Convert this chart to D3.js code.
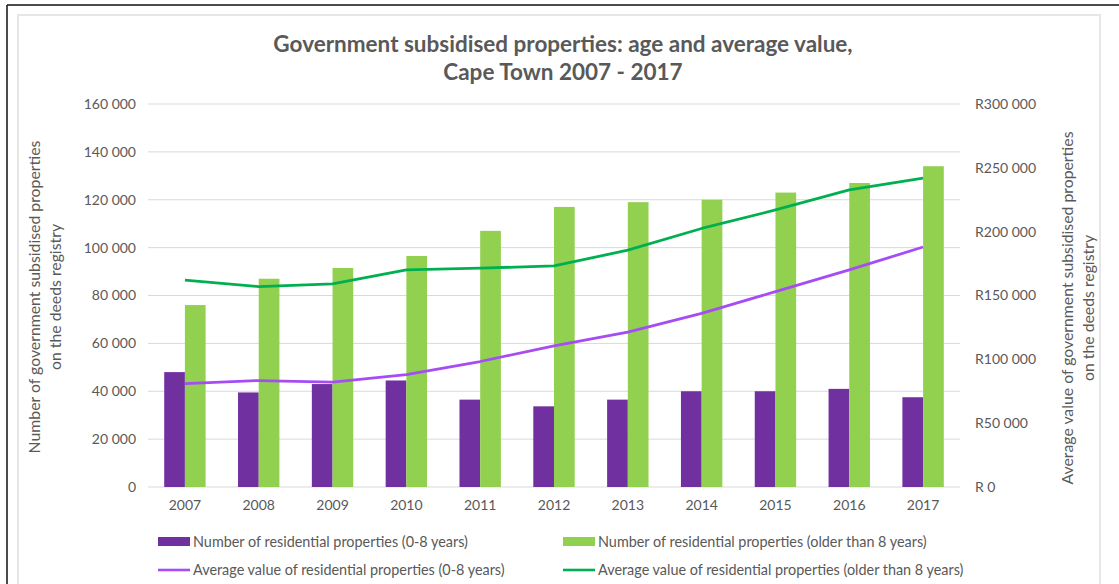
<!DOCTYPE html>
<html>
<head>
<meta charset="utf-8">
<script src="https://cdn.jsdelivr.net/npm/d3@7"></script>
<style>
  html, body { margin: 0; padding: 0; background: #fff; }
  svg { display: block; font-family: Lato, "Open Sans", sans-serif; }
</style>
</head>
<body>
<svg id="chart" width="1119" height="584"></svg>
<script>
// Years on the category axis
const years = ["2007","2008","2009","2010","2011","2012","2013","2014","2015","2016","2017"];

// Number of residential properties on the deeds registry (left axis)
const countNew = [48000, 39500, 43000, 44500, 36500, 33700, 36500, 40000, 40000, 41000, 37500];
const countOld = [76000, 87000, 91500, 96500, 107000, 117000, 119000, 120000, 123000, 127000, 134000];

// Average value of residential properties in Rand (right axis)
const valueNew = [81000, 83400, 82200, 88000, 98300, 110600, 121300, 136000, 153000, 170000, 188000];
const valueOld = [162000, 157000, 159100, 170000, 171400, 173200, 185500, 202500, 217000, 232700, 242000];

// Axis ticks
const leftTicks = [0, 20000, 40000, 60000, 80000, 100000, 120000, 140000, 160000];
const rightTicks = [0, 50000, 100000, 150000, 200000, 250000, 300000];

// Legend entries
const seriesLabels = [
  "Number of residential properties (0-8 years)",
  "Number of residential properties (older than 8 years)",
  "Average value of residential properties (0-8 years)",
  "Average value of residential properties (older than 8 years)"
];

const colors = {
  barNew: "#7030A0",
  barOld: "#92D050",
  lineNew: "#A64CF5",
  lineOld: "#00B050",
  text: "#595959",
  grid: "#D9D9D9"
};

const svg = d3.select("#chart");

// Outer frame
svg.append("line").attr("x1", 7).attr("x2", 1119).attr("y1", 5).attr("y2", 5)
  .attr("stroke", "#111").attr("stroke-width", 1.5);
svg.append("line").attr("x1", 7).attr("x2", 7).attr("y1", 5).attr("y2", 584)
  .attr("stroke", "#111").attr("stroke-width", 1.5);
svg.append("rect").attr("x", 18).attr("y", 15).attr("width", 1082).attr("height", 580)
  .attr("fill", "none").attr("stroke", "#E6E6E6").attr("stroke-width", 2);

const plot = { left: 148, right: 960, top: 104, bottom: 487 };

const x = d3.scaleBand().domain(years).range([plot.left, plot.right]).paddingInner(0).paddingOuter(0);
const yL = d3.scaleLinear().domain([0, 160000]).range([plot.bottom, plot.top]);
const yR = d3.scaleLinear().domain([0, 300000]).range([plot.bottom, plot.top]);

const grouped = v => d3.format(",")(v).replace(/,/g, " ");
const fmtLeft = v => v === 0 ? "0" : grouped(v);
const fmtRight = v => "R" + (v === 0 ? " 0" : grouped(v));

// Title
const title = svg.append("text")
  .attr("text-anchor", "middle").attr("fill", colors.text)
  .attr("font-size", 22.5).attr("font-weight", "bold");
title.append("tspan").attr("x", 563).attr("y", 52).text("Government subsidised properties: age and average value,");
title.append("tspan").attr("x", 563).attr("y", 80).text("Cape Town 2007 - 2017");

// Gridlines
svg.append("g").selectAll("line").data(leftTicks).join("line")
  .attr("x1", plot.left).attr("x2", plot.right)
  .attr("y1", d => yL(d)).attr("y2", d => yL(d))
  .attr("stroke", colors.grid).attr("stroke-width", 1);

// Left axis
const leftAxis = svg.append("g").attr("transform", `translate(${plot.left},0)`)
  .call(d3.axisLeft(yL).tickValues(leftTicks).tickFormat(fmtLeft).tickSize(0).tickPadding(12));
leftAxis.select(".domain").remove();
leftAxis.selectAll("text").attr("fill", colors.text).attr("font-size", 14).attr("font-family", "Lato, sans-serif");

// Right axis
const rightAxis = svg.append("g").attr("transform", `translate(${plot.right},0)`)
  .call(d3.axisRight(yR).tickValues(rightTicks).tickFormat(fmtRight).tickSize(0).tickPadding(15));
rightAxis.select(".domain").remove();
rightAxis.selectAll("text").attr("fill", colors.text).attr("font-size", 14).attr("font-family", "Lato, sans-serif");

// Bottom axis
const bottomAxis = svg.append("g").attr("transform", `translate(0,${plot.bottom})`)
  .call(d3.axisBottom(x).tickSize(0).tickPadding(13));
bottomAxis.select(".domain").remove();
bottomAxis.selectAll("text").attr("fill", colors.text).attr("font-size", 14).attr("font-family", "Lato, sans-serif");

// Axis titles
svg.append("text")
  .attr("transform", "translate(40,297) rotate(-90)")
  .attr("text-anchor", "middle").attr("fill", colors.text).attr("font-size", 15.8)
  .selectAll("tspan").data(["Number of government subsidised properties", "on the deeds registry"]).join("tspan")
  .attr("x", 0).attr("dy", (d, i) => i === 0 ? 0 : 21).text(d => d);

svg.append("text")
  .attr("transform", "translate(1073,308) rotate(-90)")
  .attr("text-anchor", "middle").attr("fill", colors.text).attr("font-size", 15.8)
  .selectAll("tspan").data(["Average value of government subsidised properties", "on the deeds registry"]).join("tspan")
  .attr("x", 0).attr("dy", (d, i) => i === 0 ? 0 : 21).text(d => d);

// Bars
const barW = 20.7;
const barsNew = years.map((yr, i) => ({ yr, v: countNew[i] }));
const barsOld = years.map((yr, i) => ({ yr, v: countOld[i] }));
const center = yr => x(yr) + x.bandwidth() / 2;

svg.append("g").selectAll("rect").data(barsNew).join("rect")
  .attr("x", d => center(d.yr) - barW).attr("width", barW)
  .attr("y", d => yL(d.v)).attr("height", d => yL(0) - yL(d.v))
  .attr("fill", colors.barNew);

svg.append("g").selectAll("rect").data(barsOld).join("rect")
  .attr("x", d => center(d.yr)).attr("width", barW)
  .attr("y", d => yL(d.v)).attr("height", d => yL(0) - yL(d.v))
  .attr("fill", colors.barOld);

// Lines
const line = d3.line().x((d, i) => center(years[i])).y(d => yR(d));
svg.append("path").datum(valueOld).attr("d", line)
  .attr("fill", "none").attr("stroke", colors.lineOld).attr("stroke-width", 2.8).attr("stroke-linejoin", "round");
svg.append("path").datum(valueNew).attr("d", line)
  .attr("fill", "none").attr("stroke", colors.lineNew).attr("stroke-width", 2.8).attr("stroke-linejoin", "round");

// Legend
const legend = svg.append("g").attr("font-size", 14.4).attr("fill", colors.text);
const legItems = [
  { label: seriesLabels[0], type: "bar", color: colors.barNew, x: 158, y: 542 },
  { label: seriesLabels[1], type: "bar", color: colors.barOld, x: 563, y: 542 },
  { label: seriesLabels[2], type: "line", color: colors.lineNew, x: 158, y: 570 },
  { label: seriesLabels[3], type: "line", color: colors.lineOld, x: 563, y: 570 }
];
legItems.forEach(it => {
  if (it.type === "bar") {
    legend.append("rect").attr("x", it.x).attr("y", it.y - 5).attr("width", 32).attr("height", 9).attr("fill", it.color);
  } else {
    legend.append("line").attr("x1", it.x).attr("x2", it.x + 32).attr("y1", it.y).attr("y2", it.y)
      .attr("stroke", it.color).attr("stroke-width", 2.6);
  }
  legend.append("text").attr("x", it.x + 35).attr("y", it.y + 5).text(it.label);
});
</script>
</body>
</html>
